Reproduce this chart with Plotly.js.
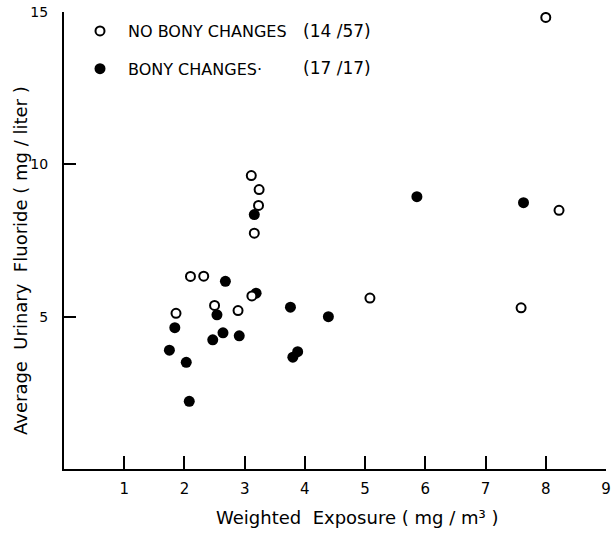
<!DOCTYPE html>
<html>
<head>
<meta charset="utf-8">
<script src="https://cdn.plot.ly/plotly-3.0.1.min.js"></script>
<style>html,body{margin:0;padding:0;background:#fff;}#chart{width:613px;height:533px;}</style>
</head>
<body>
<div id="chart"></div>
<script>
// Data
const noBonyX = [8.00, 2.10, 2.32, 1.86, 2.50, 2.89, 3.11, 3.24, 3.23, 3.16, 3.12, 5.08, 7.59, 8.22];
const noBonyY = [14.82, 6.32, 6.33, 5.11, 5.37, 5.20, 9.63, 9.17, 8.65, 7.74, 5.68, 5.61, 5.29, 8.49];
const bonyX = [3.16, 2.68, 3.19, 1.84, 1.75, 2.03, 2.08, 2.54, 2.64, 2.47, 2.91, 3.76, 4.39, 3.88, 3.80, 7.63, 5.86];
const bonyY = [8.35, 6.16, 5.77, 4.64, 3.90, 3.50, 2.22, 5.06, 4.47, 4.24, 4.37, 5.31, 5.00, 3.85, 3.67, 8.74, 8.94];
const seriesNames = ["NO BONY CHANGES", "BONY CHANGES\u00b7"];
const seriesCounts = ["(14 /57)", "(17 /17)"];
const xTickVals = [1, 2, 3, 4, 5, 6, 7, 8, 9];
const xTickText = ["1", "2", "3", "4", "5", "6", "7", "8", "9"];
const yTickVals = [5, 10, 15];
const yTickText = ["5", "10", "15"];
const xTitle = "Weighted  Exposure ( mg / m\u00b3 )";
const yTitle = "Average  Urinary  Fluoride ( mg / liter )";

const FONT = "DejaVu Sans, Liberation Sans, sans-serif";
const L = 64, T = 12, W = 542, H = 457;
const px = v => (v - L) / W;          // pixel x -> paper x
const py = v => 1 - (v - T) / H;      // pixel y -> paper y

const traces = [
  {
    x: bonyX, y: bonyY, type: "scatter", mode: "markers",
    name: seriesNames[1], legendrank: 2, legendgroup: "b",
    marker: {symbol: "circle", size: 11, color: "#000"}
  },
  {
    x: noBonyX, y: noBonyY, type: "scatter", mode: "markers",
    name: seriesNames[0], legendrank: 1, legendgroup: "a",
    marker: {symbol: "circle", size: 9, color: "#fff", line: {color: "#000", width: 2}}
  }
];

const layout = {
  width: 613, height: 533,
  margin: {l: L, r: 613 - L - W, t: T, b: 533 - T - H},
  paper_bgcolor: "#fff", plot_bgcolor: "#fff",
  font: {family: FONT, color: "#000"},
  showlegend: true,
  legend: {
    xref: "paper", yref: "paper",
    x: px(72), y: py(14), xanchor: "left", yanchor: "top",
    font: {family: FONT, size: 16, color: "#000"},
    itemwidth: 46, tracegroupgap: 14, traceorder: "grouped",
    bgcolor: "rgba(0,0,0,0)", borderwidth: 0
  },
  xaxis: {
    range: [0, 9], showgrid: false, zeroline: false, automargin: false,
    showline: true, linecolor: "#000", linewidth: 2,
    ticks: "inside", ticklen: 13, tickwidth: 2, tickcolor: "#000",
    tickvals: xTickVals, ticktext: xTickText,
    tickfont: {family: FONT, size: 15, color: "#000"},
    ticklabelstandoff: 5
  },
  yaxis: {
    range: [0, 15], showgrid: false, zeroline: false, automargin: false,
    showline: true, linecolor: "#000", linewidth: 2,
    ticks: "inside", ticklen: 12, tickwidth: 2, tickcolor: "#000",
    tickvals: yTickVals, ticktext: yTickText,
    tickfont: {family: FONT, size: 14, color: "#000"},
    ticklabelstandoff: 11
  },
  annotations: [
    {xref: "paper", yref: "paper", x: px(301), y: py(31), xanchor: "left", yanchor: "middle",
     text: seriesCounts[0], showarrow: false, font: {family: FONT, size: 17, color: "#000"}},
    {xref: "paper", yref: "paper", x: px(301), y: py(68), xanchor: "left", yanchor: "middle",
     text: seriesCounts[1], showarrow: false, font: {family: FONT, size: 17, color: "#000"}},
    {xref: "paper", yref: "paper", x: px(357), y: py(517), xanchor: "center", yanchor: "middle",
     text: xTitle, showarrow: false, font: {family: FONT, size: 18, color: "#000"}},
    {xref: "paper", yref: "paper", x: px(20), y: py(261), xanchor: "center", yanchor: "middle",
     textangle: -90, text: yTitle, showarrow: false, font: {family: FONT, size: 18, color: "#000"}}
  ]
};

Plotly.newPlot("chart", traces, layout, {displayModeBar: false, staticPlot: true});
</script>
</body>
</html>
